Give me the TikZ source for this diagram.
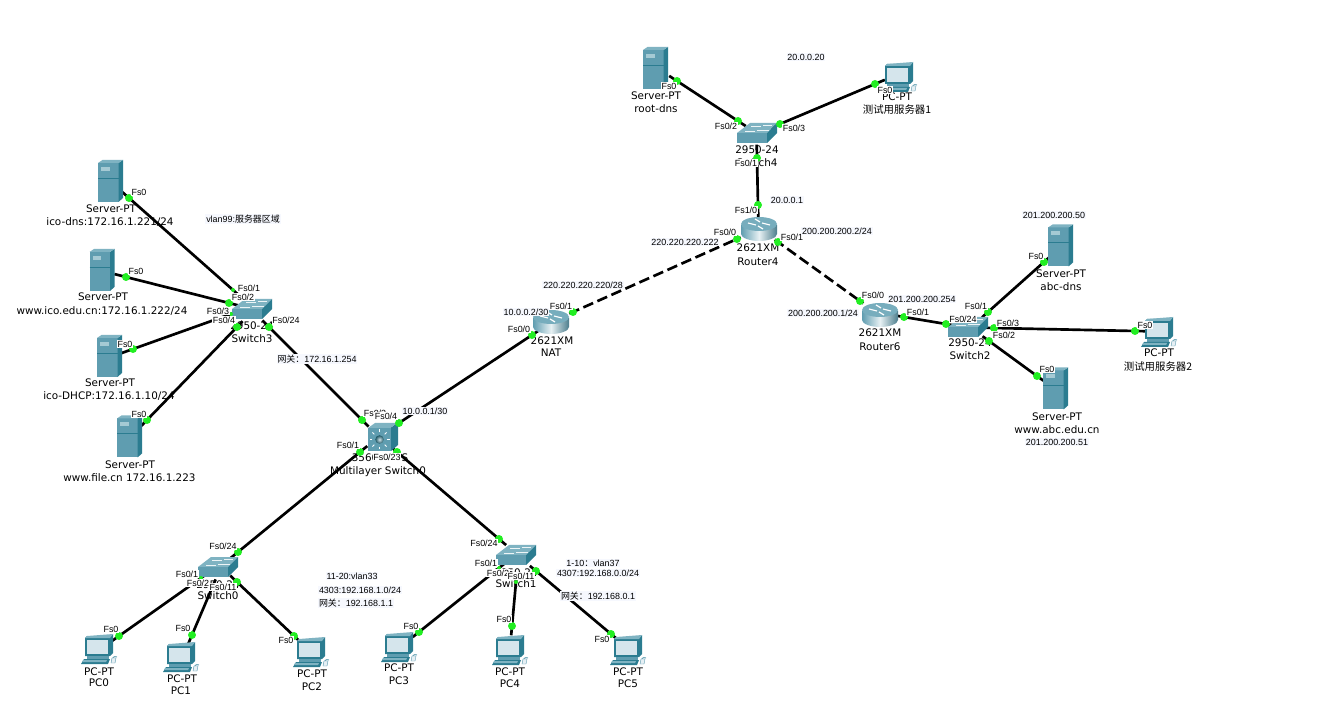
\documentclass[tikz,border=0pt]{standalone}
\usepackage{fontspec}
\setmainfont{Liberation Sans}
\newfontfamily\cjk{Noto Sans CJK SC}
\newfontfamily\devf{DejaVu Sans}
\definecolor{front}{HTML}{5F9DB0}
\definecolor{sidec}{HTML}{2B7C90}
\definecolor{topc}{HTML}{7FB3C2}
\definecolor{screenc}{HTML}{D5E5EC}
\definecolor{portg}{HTML}{22EE22}
\definecolor{notebg}{HTML}{F6F8FE}
\newcount\lblc
\newcommand\pl[3]{\global\advance\lblc by 1 \node[portlbl] (pl\the\lblc) at (#1,#2) {#3};}
\newcommand\nt[3]{\global\advance\lblc by 1 \node[notelbl] (nt\the\lblc) at (#1,#2) {#3};}
\newcommand\dv[3]{\global\advance\lblc by 1 \node[devlbl] (dv\the\lblc) at (#1,#2) {#3};}
\newcommand\zh[1]{{\cjk #1}}
\tikzset{
 x=0.75pt,y=-0.75pt,
 portlbl/.style={font=\fontsize{6.7}{7}\selectfont,fill=white,inner sep=0.3pt},
 notelbl/.style={font=\fontsize{6.7}{7}\selectfont,fill=notebg,inner sep=0.6pt},
 devlbl/.style={font=\devf\fontsize{7.8}{9}\selectfont,inner sep=0pt},
 dotn/.style={circle,fill=portg,inner sep=0pt,minimum size=6pt},
 smalldot/.style={circle,fill=portg,inner sep=0pt,minimum size=3pt},
 lnk/.style={line width=2pt,black},
 lnke/.style={lnk,shorten <=-#1,shorten >=-#1},
 lnke/.default=6pt,
 dash link/.style={line width=2pt,black,dash pattern=on 8pt off 3.5pt,shorten <=-3pt,shorten >=-3pt},
 pics/srv/.style={code={
  \fill[front] (-12.5,-18) rectangle (8,21);
  \fill[sidec] (8,-18)--(12.5,-21)--(12.5,17)--(8,21)--cycle;
  \fill[topc] (-12.5,-18)--(-8,-21)--(12.5,-21)--(8,-18)--cycle;
  \fill[topc!70!white] (-9.5,-14) rectangle (-1,-10);
  \draw[sidec,line width=0.3pt] (-12.5,-3)--(8,-3);
 }},
 pics/pcbox/.style={code={
  \fill[sidec] (-12,-13)--(12,-13)--(14,-15)--(14,4)--(11,7)--(-14,7)--(-14,-11)--cycle;
  \fill[topc] (-14,-11)--(-12,-13)--(14,-15)--(11,-11)--cycle;
  \fill[screenc] (-12,-9) rectangle (9,5);
  \fill[front] (-12,7) rectangle (10,10);
  \fill[sidec] (-15,10)--(11,10)--(9,15)--(-18,15)--cycle;
  \fill[topc] (-16,11)--(8,11)--(7,13)--(-17,13)--cycle;
  \draw[front,line width=0.7pt] (13,13) .. controls (13,8) and (15,7) .. (18,8);
  \fill[screenc!60!white,draw=front,line width=0.3pt] (13,9) -- (17,9) -- (16,14) -- (12,14) -- cycle;
 }},
 pics/swbox/.style={code={
  \fill[topc] (-20,0)--(-7,-10)--(20,-10)--(10,0)--cycle;
  \fill[front] (-20,0) rectangle (10,10);
  \fill[sidec] (10,0)--(20,-10)--(20,0)--(10,10)--cycle;
  \draw[white!85!topc,line width=0.4pt] (-12,-2)--(-2,-2) (-6,-7)--(4,-7) (0,-3)--(12,-3) (6,-8)--(15,-8);
 }},
 pics/rtr/.style={code={
  \shade[left color=front,right color=front!80!black,middle color=white!85!front]
    (-18,-4) -- (-18,5) .. controls (-18,9) and (-9,12) .. (0,12) .. controls (9,12) and (18,9) .. (18,5) -- (18,-4) -- cycle;
  \fill[topc!75!front] (0,-5) ellipse[x radius=18,y radius=7];
  \draw[white,line width=0.9pt] (-11,-6)--(-3,-4) (11,-4)--(3,-6) (-4,-10)--(1,-7) (4,0)--(-1,-3);
 }},
 pics/mls/.style={code={
  \fill[front] (-15,-9) rectangle (8,14);
  \fill[topc] (-15,-9)--(-8,-14)--(15,-14)--(8,-9)--cycle;
  \fill[sidec] (8,-9)--(15,-14)--(15,8)--(8,14)--cycle;
  \foreach \a in {0,45,...,315}{\draw[white,line width=0.7pt] ([shift={(\a:5.5pt)}]-3.5,2.5) -- ([shift={(\a:7.5pt)}]-3.5,2.5);}
  \shade[inner color=white!70!front,outer color=sidec!70!black] (-3.5,2.5) circle (3.2pt);
 }},
}
\begin{document}
\begin{tikzpicture}
\useasboundingbox (0,0) rectangle (1343,723);
% ports
\foreach \n/\x/\y in {
 a1/129/198,a2/233/290,b1/126/277,b2/229/303,c1/133/349,c2/231/314,d1/147/420,d2/237/327,
 e1/269/327,e2/362/420,f1/360/452,f2/238/552,g1/399/423,g2/532/335,h1/397/452,h2/499/539,
 i1/201/578,i2/119/636,j1/212/588,j2/192/635,k1/237/582,k2/294/636,
 l1/499/568,l2/419/632,m1/516/582,m2/512/626,n1/536/571,n2/611/634,
 o1/573/312,o2/737/239,p1/778/242,p2/860/301,q1/758/205,q2/757/158,
 r1/738/121,r2/677/81,s1/780/124,s2/875/84,t1/904/317,t2/946/324,
 u1/988/312,u2/1044/262,v1/994/328,v2/1135/331,w1/989/341,w2/1037/376}{
 \coordinate (\n) at (\x,\y);
}
% links
\foreach \s/\t/\e in {a1/a2/9pt,b1/b2/9pt,c1/c2/9pt,d1/d2/6pt,e1/e2/7pt,f1/f2/7pt,g1/g2/7pt,h1/h2/7pt,
 i1/i2/7pt,j1/j2/7pt,k1/k2/7pt,l1/l2/6pt,m1/m2/7pt,n1/n2/6pt,
 q1/q2/10pt,r1/r2/7pt,s1/s2/8pt,t1/t2/5pt,u1/u2/6pt,v1/v2/8pt,w1/w2/6pt}{
 \draw[lnke=\e] (\s) -- (\t);
}
\draw[dash link] (o1) -- (o2);
\draw[dash link] (p1) -- (p2);
% devices
\pic at (110.5,181) {srv};
\pic at (102,270) {srv};
\pic at (109.5,356) {srv};
\pic at (129.5,436.5) {srv};
\pic at (655.5,68) {srv};
\pic at (1060.5,245.5) {srv};
\pic at (1055.5,388.5) {srv};
\pic at (99,649) {pcbox};
\pic at (181,657) {pcbox};
\pic at (311,652) {pcbox};
\pic at (399,647) {pcbox};
\pic at (510,650) {pcbox};
\pic at (628,650) {pcbox};
\pic at (899,77) {pcbox};
\pic at (1159,332) {pcbox};
\pic at (252,309) {swbox};
\pic at (757,133) {swbox};
\pic at (968,327) {swbox};
\pic at (218,567) {swbox};
\pic at (516,555) {swbox};
\pic at (759,229) {rtr};
\pic at (551,322) {rtr};
\pic at (880,315) {rtr};
\pic at (383,437) {mls};
% device labels
\dv{111}{209}{Server-PT}\dv{110}{222}{ico-dns:172.16.1.221/24}
\dv{103}{297}{Server-PT}\dv{102}{311}{www.ico.edu.cn:172.16.1.222/24}
\dv{110}{383}{Server-PT}\dv{109}{396}{ico-DHCP:172.16.1.10/24}
\dv{130}{465}{Server-PT}\dv{129.5}{478}{www.file.cn 172.16.1.223}
\dv{252}{326}{2950-24}\dv{252}{339}{Switch3}
\dv{380}{458}{3560-24PS}\dv{378}{472}{Multilayer Switch0}
\dv{758}{248}{2621XM}\dv{758}{262}{Router4}
\dv{552}{341}{2621XM}\dv{551}{353}{NAT}
\dv{880}{333}{2621XM}\dv{880}{347}{Router6}
\dv{757}{150}{2950-24}\dv{757}{163}{Switch4}
\dv{656}{96}{Server-PT}\dv{656}{109}{root-dns}
\dv{897}{97}{PC-PT}\dv{897}{110}{\zh{测试用服务器1}}
\dv{1061}{274}{Server-PT}\dv{1061}{287}{abc-dns}
\dv{970}{343}{2950-24}\dv{970}{356}{Switch2}
\dv{1159}{353}{PC-PT}\dv{1158}{367}{\zh{测试用服务器2}}
\dv{1057}{417}{Server-PT}\dv{1057}{430}{www.abc.edu.cn}
\dv{218}{585}{2950-24}\dv{218}{596}{Switch0}
\dv{516}{573}{2950-24}\dv{516}{584}{Switch1}
\dv{99}{672}{PC-PT}\dv{99}{683}{PC0}
\dv{182}{679}{PC-PT}\dv{181}{691}{PC1}
\dv{312}{674}{PC-PT}\dv{312}{687}{PC2}
\dv{399}{668}{PC-PT}\dv{399}{681}{PC3}
\dv{510}{672}{PC-PT}\dv{510}{684}{PC4}
\dv{628}{672}{PC-PT}\dv{628}{684}{PC5}
% port dots
\foreach \n in {a1,b1,b2,c1,d1,d2,e1,e2,f1,f2,g1,g2,h1,h2,i2,j2,k1,k2,l2,m2,n1,n2,o1,o2,p1,p2,q1,q2,r1,r2,s1,s2,t1,t2,u1,u2,v1,v2,w1,w2}{
 \node[dotn] (dot\n) at (\n) {};
}
\foreach \n in {a2,c2,i1,j1,l1,m1}{
 \node[smalldot] (dot\n) at (\n) {};
}
% port labels
\pl{139}{192}{Fs0}\pl{136}{271}{Fs0}\pl{125}{344}{Fs0}\pl{139}{414}{Fs0}
\pl{249}{288}{Fs0/1}\pl{243}{297}{Fs0/2}\pl{218}{311}{Fs0/3}\pl{224}{320}{Fs0/4}\pl{286}{320}{Fs0/24}
\pl{375}{413}{Fs0/3}\pl{386}{416}{Fs0/4}\pl{348}{445}{Fs0/1}\pl{387}{457}{Fs0/23}
\pl{669}{86}{Fs0}\pl{726}{126}{Fs0/2}\pl{794}{128}{Fs0/3}\pl{746}{163}{Fs0/1}\pl{885}{90}{Fs0}
\pl{746}{210}{Fs1/0}\pl{725}{232}{Fs0/0}\pl{792}{237}{Fs0/1}
\pl{561}{306}{Fs0/1}\pl{519}{329}{Fs0/0}\pl{873}{295}{Fs0/0}\pl{918}{312}{Fs0/1}
\pl{963}{319}{Fs0/24}\pl{976}{306}{Fs0/1}\pl{1008}{323}{Fs0/3}\pl{1004}{335}{Fs0/2}
\pl{1036}{256}{Fs0}\pl{1145}{325}{Fs0}\pl{1047}{369}{Fs0}
\pl{223}{546}{Fs0/24}\pl{187}{574}{Fs0/1}\pl{198}{583}{Fs0/2}\pl{223}{587}{Fs0/11}
\pl{111}{629}{Fs0}\pl{183}{628}{Fs0}\pl{286}{640}{Fs0}
\pl{484}{543}{Fs0/24}\pl{486}{563}{Fs0/1}\pl{498}{573}{Fs0/2}\pl{521}{576}{Fs0/11}
\pl{411}{626}{Fs0}\pl{504}{619}{Fs0}\pl{602}{639}{Fs0}
% notes
\nt{243}{219}{vlan99:\zh{服务器区域}}
\nt{317}{359}{\zh{网关：}172.16.1.254}
\nt{425}{411}{10.0.0.1/30}
\nt{806}{57}{20.0.0.20}
\nt{787}{200}{20.0.0.1}
\nt{837}{231}{200.200.200.2/24}
\nt{685}{242}{220.220.220.222}
\nt{583}{285}{220.220.220.220/28}
\nt{526}{312}{10.0.0.2/30}
\nt{823}{313}{200.200.200.1/24}
\nt{922}{299}{201.200.200.254}
\nt{1054}{215}{201.200.200.50}
\nt{1057}{442}{201.200.200.51}
\nt{352}{576}{11-20:vlan33}
\nt{360}{590}{4303:192.168.1.0/24}
\nt{356}{603}{\zh{网关：}192.168.1.1}
\nt{593}{563}{1-10\zh{：}vlan37}
\nt{598}{573}{4307:192.168.0.0/24}
\nt{598}{596}{\zh{网关：}192.168.0.1}
\end{tikzpicture}
\end{document}
